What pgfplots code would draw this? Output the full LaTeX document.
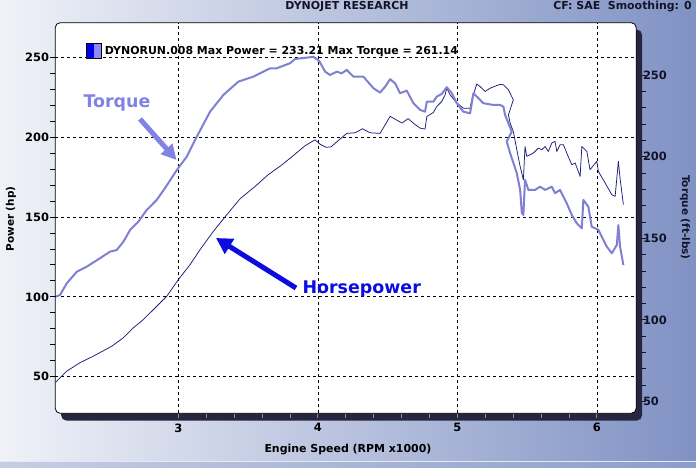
\documentclass[border=0pt]{standalone}
\usepackage{fontspec}
\setmainfont{DejaVu Sans}
\usepackage{pgfplots}
\pgfplotsset{compat=1.18}
\usetikzlibrary{arrows.meta}

\definecolor{bgl}{RGB}{240,242,248}
\definecolor{bgr}{RGB}{128,146,196}
\definecolor{shadow}{RGB}{38,38,64}
\definecolor{torq}{RGB}{128,128,210}
\definecolor{pwr}{RGB}{28,28,120}
\definecolor{hplab}{RGB}{12,12,225}
\definecolor{tqlab}{RGB}{130,130,228}
\definecolor{legA}{RGB}{0,0,235}
\definecolor{legB}{RGB}{140,140,240}
\definecolor{txt}{RGB}{20,20,40}

\newcommand{\fs}[1]{\bfseries\fontsize{#1}{#1}\selectfont}

\begin{document}
\begin{tikzpicture}
\begin{scope}[x=1bp,y=-1bp]
  \useasboundingbox (0,0) rectangle (696,468);
  \shade[left color=bgl, right color=bgr] (0,0) rectangle (696,468);
  \shade[left color=bgr!45!white, right color=bgr!90!white] (0,461) rectangle (696,468);
  \draw[white!80!bgr, line width=1bp] (0,461) -- (696,461);
  % shadow and plot area
  \fill[shadow, rounded corners=5bp] (61.2,29.7) rectangle (642,420.5);
  \fill[white, rounded corners=5bp] (55.2,22.7) rectangle (636.2,413.3);
\end{scope}

\begin{axis}[
  at={(55.2bp,-413.3bp)}, anchor=south west,
  scale only axis, width=581bp, height=390.6bp,
  xmin=2.117, xmax=6.282, ymin=27.1, ymax=271.6,
  xtick={3,4,5,6}, ytick={50,100,150,200,250},
  minor x tick num=4, minor y tick num=4,
  axis x line*=bottom, axis y line*=left,
  axis line style={draw=none},
  grid=major,
  major grid style={black, line width=0.7bp, dash pattern=on 3bp off 3bp},
  tick align=outside, major tick length=5bp, minor tick length=5bp,
  x tick style={black!45, line width=0.8bp},
  y tick style={black, line width=0.8bp},
  /pgf/number format/assume math mode=true,
  tick label style={font=\fs{11.5}, inner sep=0pt},
  yticklabel style={xshift=-1bp},
  xticklabel style={yshift=-5bp},
]
\addplot[pwr, line width=0.75bp, line join=round] coordinates {
(2.121,46.6) (2.200,53.5) (2.295,58.8) (2.391,62.9) (2.523,69.1) (2.606,74.4)
(2.677,80.6) (2.749,85.8) (2.845,94.1) (2.917,100.4) (3.000,110.8) (3.084,120.2)
(3.156,129.6) (3.251,141.0) (3.347,151.4) (3.442,161.4) (3.550,169.1) (3.643,176.4)
(3.736,182.2) (3.824,188.4) (3.908,194.6) (3.980,198.3) (4.016,195.5) (4.059,193.6)
(4.095,193.9) (4.123,196.1) (4.207,202.3) (4.267,202.7) (4.320,205.2) (4.374,202.7)
(4.446,202.3) (4.518,213.0) (4.561,210.8) (4.604,208.8) (4.647,211.6) (4.690,208.3)
(4.733,205.6) (4.768,205.0) (4.781,212.9) (4.828,215.4) (4.852,219.1) (4.888,222.3)
(4.912,226.4) (4.924,230.6) (4.948,226.4) (4.996,221.3) (5.043,218.1) (5.091,218.1)
(5.103,223.3) (5.139,233.2) (5.163,231.6) (5.199,228.5) (5.234,230.6) (5.306,233.0)
(5.330,232.7) (5.366,229.6) (5.401,223.3) (5.366,213.9) (5.378,208.8) (5.401,203.5)
(5.426,192.1) (5.450,181.6) (5.473,173.3) (5.485,194.1) (5.497,187.9) (5.545,190.0)
(5.581,193.1) (5.605,192.1) (5.629,194.1) (5.652,191.0) (5.677,196.3) (5.700,197.3)
(5.713,191.0) (5.736,195.2) (5.760,195.2) (5.784,190.0) (5.820,182.7) (5.844,183.8)
(5.880,175.4) (5.892,194.1) (5.928,191.0) (5.951,179.6) (5.999,184.8) (6.011,178.5)
(6.059,171.3) (6.107,163.9) (6.131,162.9) (6.154,184.8) (6.166,174.4) (6.190,157.7)
};
\end{axis}

\begin{axis}[
  at={(55.2bp,-413.3bp)}, anchor=south west,
  scale only axis, width=581bp, height=390.6bp,
  xmin=2.117, xmax=6.282, ymin=42.8, ymax=282.0,
  axis x line=none, axis y line*=right,
  axis line style={draw=none},
  ytick={50,100,150,200,250}, minor y tick num=4,
  tick align=outside, major tick length=4bp, minor tick length=4bp,
  y tick style={txt, line width=0.8bp, xshift=5.8bp},
  /pgf/number format/assume math mode=true,
  tick label style={font=\fs{11.5}, inner sep=0pt, text=txt},
  yticklabel style={xshift=2.6bp},
]
\addplot[torq, line width=2bp, line join=round] coordinates {
(2.121,114.2) (2.152,115.3) (2.200,122.4) (2.272,129.5) (2.343,132.6) (2.439,137.8)
(2.510,141.8) (2.558,142.8) (2.606,147.9) (2.654,155.1) (2.713,160.2) (2.773,167.3)
(2.845,173.5) (2.905,180.8) (2.989,191.8) (3.060,200.0) (3.132,212.2) (3.227,227.5)
(3.323,237.8) (3.430,245.9) (3.538,249.0) (3.657,254.1) (3.705,254.1) (3.801,257.2)
(3.837,259.8) (3.920,260.6) (3.968,261.1) (4.010,258.5) (4.052,252.0) (4.087,250.0)
(4.135,252.0) (4.171,251.0) (4.207,253.1) (4.254,249.0) (4.326,249.0) (4.398,241.9)
(4.446,239.2) (4.482,242.8) (4.518,247.4) (4.553,244.9) (4.589,238.8) (4.637,240.4)
(4.685,232.7) (4.733,228.6) (4.768,227.5) (4.781,233.6) (4.828,233.6) (4.852,236.7)
(4.888,238.4) (4.924,242.5) (4.960,238.8) (4.996,232.7) (5.043,227.5) (5.091,226.5)
(5.115,238.8) (5.163,234.7) (5.186,232.7) (5.258,231.6) (5.306,231.6) (5.330,230.6)
(5.342,225.5) (5.366,220.4) (5.390,215.3) (5.354,209.2) (5.378,202.1) (5.426,189.8)
(5.450,179.6) (5.462,165.3) (5.473,164.3) (5.485,185.7) (5.509,179.6) (5.557,179.6)
(5.593,181.6) (5.629,179.6) (5.677,181.6) (5.700,177.6) (5.736,179.6) (5.760,175.5)
(5.784,171.4) (5.820,164.3) (5.856,159.2) (5.892,156.1) (5.903,173.5) (5.939,169.3)
(5.963,157.1) (6.011,155.1) (6.035,151.0) (6.071,144.9) (6.107,140.8) (6.143,145.9)
(6.154,158.1) (6.166,144.9) (6.190,133.6)
};
\end{axis}

\begin{scope}[x=1bp,y=-1bp]
  \draw[black, line width=0.8bp, rounded corners=5bp] (55.2,22.7) rectangle (636.2,413.3);
  % legend
  \fill[legA] (86,43.3) rectangle (93.8,58.3);
  \fill[legB] (93.8,43.3) rectangle (101.7,58.3);
  \draw[black, line width=0.6bp] (86,43.3) rectangle (101.7,58.3);
  \node[anchor=base west, inner sep=0pt, font=\fs{11}] at (104.7,54.5)
    {DYNORUN.008 Max Power = 233.21 Max Torque = 261.14};
  % header
  \node[anchor=base, inner sep=0pt, font=\fs{11}, text=txt] at (347,9.5) {DYNOJET RESEARCH};
  \node[anchor=base east, inner sep=0pt, font=\fs{11}, text=txt] at (692,9.5) {CF: SAE\ \ Smoothing: 0};
  % axis titles
  \node[rotate=90, inner sep=0pt, font=\fs{10.5}] at (11,219) {Power (hp)};
  \node[rotate=-90, inner sep=0pt, font=\fs{10.5}, text=txt] at (685,217.5) {Torque (ft-lbs)};
  \node[inner sep=0pt, font=\fs{11}] at (348,450) {Engine Speed (RPM x1000)};
  % annotations
  \node[text=tqlab, inner sep=0pt, font=\fs{17.5}] at (117,103) {Torque};
  \draw[tqlab, line width=5bp, -{Triangle[length=15bp,width=15bp]}] (140,119) -- (176.5,160);
  \node[text=hplab, inner sep=0pt, font=\fs{17.5}] at (361.7,288.5) {Horsepower};
  \draw[hplab, line width=5bp, -{Triangle[length=16bp,width=17bp]}] (296,288) -- (216,238);
\end{scope}
\end{tikzpicture}
\end{document}
